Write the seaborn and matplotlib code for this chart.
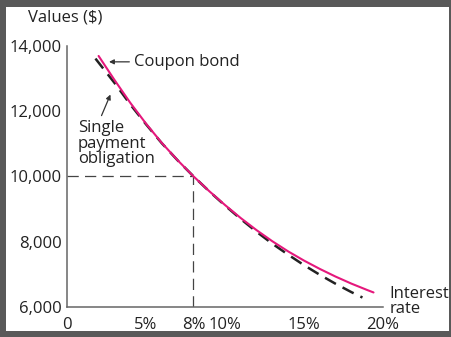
import matplotlib
matplotlib.use("Agg")
import matplotlib.pyplot as plt
from matplotlib.patches import Rectangle
import seaborn as sns
import pandas as pd

# Interest rate (%) and value ($) of the coupon bond
coupon_rate = [2, 3, 4, 5, 6, 7, 8, 9, 10, 11, 12, 13, 14, 15, 16, 17, 18, 19, 19.4]
coupon_value = [13680, 12950, 12250, 11610, 11020, 10490, 10000, 9545, 9120, 8720,
                8350, 8010, 7700, 7420, 7165, 6930, 6715, 6520, 6445]

# Interest rate (%) and value ($) of the single payment obligation
single_rate = [1.8, 3, 4, 5, 6, 7, 8, 9, 10, 11, 12, 13, 14, 15, 16, 17, 18, 18.7]
single_value = [13600, 12860, 12200, 11590, 11010, 10487, 10000, 9540, 9105, 8690,
                8300, 7935, 7600, 7280, 6985, 6710, 6455, 6290]

x_ticks = [0, 5, 8, 10, 15, 20]
x_tick_labels = ["0", "5%", "8%", "10%", "15%", "20%"]
y_ticks = [6000, 8000, 10000, 12000, 14000]
y_tick_labels = ["6,000", "8,000", "10,000", "12,000", "14,000"]

match_rate = 8
match_value = 10000

sns.set_style("white")
plt.rcParams["font.family"] = ["Open Sans", "DejaVu Sans"]

TEXT = "#222222"
AXIS = "#666666"
PINK = "#e5187c"
FS = 12

W, H = 451, 337
fig = plt.figure(figsize=(W / 100, H / 100), dpi=100, facecolor="#595959")
# white panel inside the dark frame
fig.patches.append(Rectangle((6 / W, 6 / H), (449 - 6) / W, (331 - 7) / H,
                             transform=fig.transFigure, facecolor="white",
                             edgecolor="none", zorder=-5))

ax = fig.add_axes([67 / W, (H - 307) / H, 316 / W, 261.5 / H])
ax.set_facecolor("none")
ax.set_zorder(2)

coupon = pd.DataFrame({"rate": coupon_rate, "value": coupon_value})
single = pd.DataFrame({"rate": single_rate, "value": single_value})

# guide lines to the matching point
ax.plot([0, match_rate], [match_value, match_value], color="#444444", lw=0.9,
        ls=(0, (9, 5)), zorder=1)
ax.plot([match_rate, match_rate], [6000, match_value], color="#444444", lw=0.9,
        ls=(0, (9, 5)), zorder=1)

sns.lineplot(data=single, x="rate", y="value", ax=ax, color="#222222",
             linewidth=1.8, linestyle=(0, (5, 3)), zorder=3)
sns.lineplot(data=coupon, x="rate", y="value", ax=ax, color=PINK,
             linewidth=1.5, zorder=4)

ax.set_xlim(0, 20)
ax.set_ylim(6000, 14000)
ax.set_xticks(x_ticks)
ax.set_xticklabels(x_tick_labels)
ax.set_yticks(y_ticks)
ax.set_yticklabels(y_tick_labels)
ax.set_xlabel("")
ax.set_ylabel("")

for side in ["top", "right"]:
    ax.spines[side].set_visible(False)
for side in ["left", "bottom"]:
    ax.spines[side].set_color(AXIS)
    ax.spines[side].set_linewidth(1.1)

ax.tick_params(axis="both", direction="out", length=3, width=0.9, color=AXIS,
               labelsize=FS, labelcolor=TEXT, pad=1)
ax.tick_params(axis="x", pad=4)

# axis titles
fig.text(28 / W, 1 - 18 / H, "Values ($)", ha="left", va="center",
         fontsize=FS, color=TEXT)
ax.text(20.4, 6160, "Interest\nrate", ha="left", va="center", fontsize=FS,
        color=TEXT, linespacing=0.92, clip_on=False)

# curve labels
ax.annotate("Coupon bond", xy=(2.66, 13500), xytext=(4.24, 13500),
            ha="left", va="center", fontsize=FS, color=TEXT,
            arrowprops=dict(arrowstyle="-|>", color="#333333", lw=0.9,
                            mutation_scale=7, shrinkA=1, shrinkB=0))
ax.annotate("Single\npayment\nobligation", xy=(2.75, 12500), xytext=(0.7, 11000),
            ha="left", va="center", fontsize=FS, color=TEXT, linespacing=0.95,
            arrowprops=dict(arrowstyle="-|>", color="#333333", lw=0.9,
                            mutation_scale=7, shrinkA=1, shrinkB=0,
                            relpos=(0.28, 1.0)))

fig.savefig("out.png", dpi=100, facecolor=fig.get_facecolor())
